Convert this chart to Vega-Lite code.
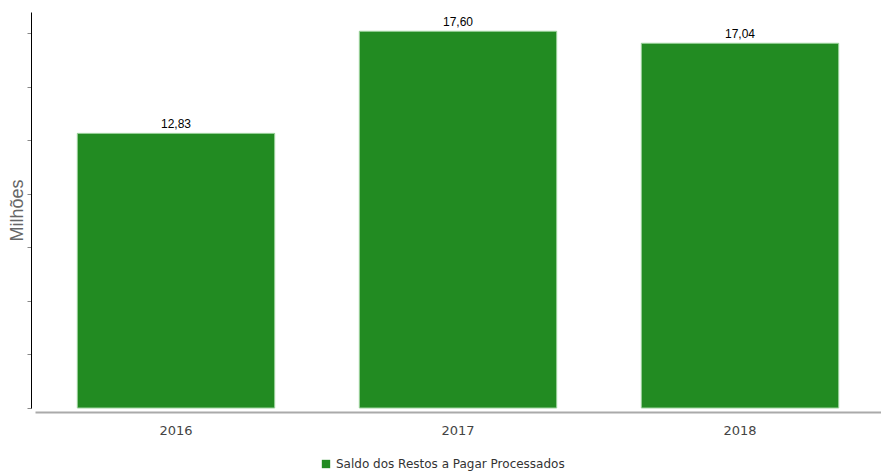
{
  "$schema": "https://vega.github.io/schema/vega-lite/v6.json",
  "width": 846,
  "height": 396,
  "autosize": {"type": "none"},
  "padding": {"left": 35, "top": 12, "right": 0, "bottom": 67},
  "background": "white",
  "config": {
    "view": {"stroke": null},
    "locale": {"number": {"decimal": ",", "thousands": ".", "grouping": [3], "currency": ["R$", ""]}}
  },
  "data": {
    "values": [
      {"ano": "2016", "valor": 12.83, "serie": "Saldo dos Restos a Pagar Processados"},
      {"ano": "2017", "valor": 17.60, "serie": "Saldo dos Restos a Pagar Processados"},
      {"ano": "2018", "valor": 17.04, "serie": "Saldo dos Restos a Pagar Processados"}
    ]
  },
  "encoding": {
    "x": {
      "field": "ano", "type": "nominal",
      "scale": {"paddingInner": 0.3, "paddingOuter": 0.15},
      "axis": {
        "title": null, "labelAngle": 0, "ticks": false, "offset": 4,
        "domainColor": "#aaaaaa", "domainWidth": 2,
        "labelFont": "DejaVu Sans", "labelFontSize": 13, "labelColor": "#444444",
        "labelPadding": 12, "grid": false
      }
    },
    "y": {
      "field": "valor", "type": "quantitative",
      "scale": {"domain": [0, 18.5], "nice": false},
      "axis": {
        "title": "Milhões", "titleFont": "Liberation Sans", "titleFontSize": 18,
        "titleFontWeight": "normal", "titleColor": "#666666", "titlePadding": 0,
        "labels": false, "values": [0, 2.5, 5, 7.5, 10, 12.5, 15, 17.5],
        "tickSize": 4, "tickColor": "#888888", "domainColor": "#000000",
        "offset": 4, "grid": false
      }
    }
  },
  "layer": [
    {
      "mark": {"type": "bar", "stroke": "#9fd49f", "strokeWidth": 1},
      "encoding": {
        "color": {
          "field": "serie", "type": "nominal",
          "scale": {"range": ["#228B22"]},
          "legend": {
            "title": null, "orient": "none", "legendX": 285, "legendY": 446,
            "symbolType": "square", "symbolSize": 70, "symbolStrokeWidth": 0,
            "labelFont": "DejaVu Sans", "labelFontSize": 12, "labelColor": "#333333",
            "labelOffset": 4, "labelLimit": 0
          }
        }
      }
    },
    {
      "mark": {"type": "text", "dy": -9, "font": "Liberation Sans", "fontSize": 12, "color": "#000000"},
      "encoding": {
        "text": {"field": "valor", "type": "quantitative", "format": ".2f"}
      }
    }
  ]
}
